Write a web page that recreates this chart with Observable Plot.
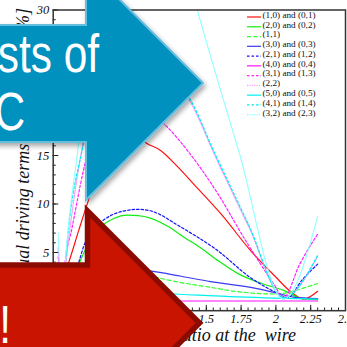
<!DOCTYPE html>
<html>
<head>
<meta charset="utf-8">
<script src="https://cdn.jsdelivr.net/npm/d3@7"></script>
<script src="https://cdn.jsdelivr.net/npm/@observablehq/plot@0.6"></script>
<style>
  html, body { margin: 0; padding: 0; overflow: hidden; background: #fff; }
  #chart svg { display: block; }
</style>
</head>
<body>
<div id="chart"></div>
<script>
// Residual resonance driving terms (p,q) versus the beta ratio at the wire.
// Each series: [beta ratio, residual driving term in %]
const s10 = [[0.435,0.8],[0.468,2.2],[0.512,4.0],[0.584,7.3],[0.656,10.5],[0.739,13.8],[0.835,16.5],[0.913,17.5],[0.99,17.2],[1.068,16.3],[1.174,15.5],[1.29,13.9],[1.406,12.1],[1.61,8.9],[1.818,5.2],[1.997,2.5],[2.103,1.0],[2.2,0.2],[2.3,1.0]];
const s20 = [[0.435,1.5],[0.497,0.4],[0.545,2.2],[0.596,4.2],[0.642,5.6],[0.739,7.6],[0.835,8.5],[0.932,8.85],[1.01,8.8],[1.097,8.55],[1.223,7.7],[1.337,6.6],[1.458,5.5],[1.59,4.1],[1.724,2.85],[1.9,1.8],[2.055,1.1],[2.19,0.25],[2.3,0.15]];
const s11 = [[0.435,2.5],[0.487,0.5],[0.594,2.6],[0.739,3.3],[0.884,3.3],[1.029,2.9],[1.126,2.5],[1.319,1.9],[1.513,1.45],[1.706,1.0],[1.9,0.75],[1.997,0.72],[2.094,0.9],[2.19,1.3],[2.3,1.8]];
const s30 = [[0.435,1.5],[0.487,0.3],[0.594,2.0],[0.739,3.2],[0.932,3.4],[1.097,3.1],[1.319,2.55],[1.53,2.0],[1.818,1.4],[2.011,0.8],[2.126,0.4],[2.3,0.25]];
const s21 = [[0.435,1.2],[0.497,0.4],[0.582,3.9],[0.618,5.6],[0.661,7.0],[0.739,8.1],[0.812,8.8],[0.913,9.3],[1.013,9.45],[1.097,9.3],[1.319,7.6],[1.581,5.2],[1.818,2.4],[2.011,0.8],[2.084,0.35],[2.19,2.2],[2.3,3.8]];
const s40 = [[0.435,1.5],[0.487,0.2],[0.594,2.0],[0.739,2.4],[0.884,1.6],[1.029,0.7],[1.174,0.1],[1.319,0.0],[1.8,0.0],[2.3,0.0]];
const s31 = [[0.435,4.5],[0.458,2.3],[0.47,0.3],[0.485,3.9],[0.532,7.3],[0.618,13.5],[0.69,17.3],[0.787,19.8],[0.884,20.6],[0.981,20.4],[1.077,19.6],[1.208,18.1],[1.365,15.5],[1.581,11.1],[1.767,6.6],[1.983,1.8],[2.055,0.35],[2.171,3.8],[2.3,6.9]];
const s22 = [[0.435,5.5],[0.468,0.4],[0.497,4.5],[0.623,17.0],[0.69,21.5],[0.787,24.5],[0.884,25.6],[0.981,25.8],[1.126,24.7],[1.271,22.8],[1.387,20.5],[1.552,15.3],[1.803,7.7],[2.055,0.4],[2.3,4.6]];
const s50 = [[0.435,1.2],[0.487,0.2],[0.594,1.4],[0.739,1.7],[0.932,1.3],[1.208,0.8],[1.513,0.55],[1.997,0.3],[2.3,0.2]];
const s41 = [[0.435,4.0],[0.472,0.4],[0.488,3.9],[0.618,16.3],[0.69,21.5],[0.787,24.8],[0.884,26.0],[0.981,26.2],[1.126,25.0],[1.271,23.0],[1.387,20.7],[1.552,15.5],[1.803,7.9],[2.055,0.35],[2.3,4.7]];
const s32 = [[0.435,7.0],[0.47,0.3],[0.487,3.9],[0.582,16.2],[0.642,24],[0.69,30.5],[0.787,40],[0.932,48],[1.077,48],[1.223,41],[1.435,30],[1.732,15.5],[2.055,0.2],[2.3,8.7]];

const seriesNames = ["(1,0) and (0,1)", "(2,0) and (0,2)", "(1,1)", "(3,0) and (0,3)", "(2,1) and (1,2)",
  "(4,0) and (0,4)", "(3,1) and (1,3)", "(2,2)", "(5,0) and (0,5)", "(4,1) and (1,4)", "(3,2) and (2,3)"];
const seriesData = [s10, s20, s11, s30, s21, s40, s31, s22, s50, s41, s32];

const xTicks = [0.5, 0.75, 1, 1.25, 1.5, 1.75, 2, 2.25, 2.5];
const yTicks = [0, 5, 10, 15, 20, 25, 30];

// line styles, one per series
const seriesColors = ["#ff1010", "#10ee10", "#33ff33", "#3a3af0", "#1010ff", "#ff10ff", "#ff22ff", "#ff99ff", "#00f0f0", "#00eeee", "#88ffff"];
const seriesDash = [null, null, "4,2.5", null, "2.5,2", null, "2.5,2", "1.2,1.2", null, "2.5,2", "1.2,1.2"];

const rows = seriesData.flatMap((pts, i) => pts.map(([x, y]) => ({series: seriesNames[i], x, y})));

const xMinor = d3.range(8, 51).map(k => k * 0.05);
const yMinor = d3.range(-1, 31);
const serif = "'Liberation Serif', 'Times New Roman', serif";

const chart = Plot.plot({
  width: 347,
  height: 347,
  marginLeft: 52.7,
  marginRight: 2,
  marginTop: 9.5,
  marginBottom: 36.8,
  x: {domain: [0.4, 2.5]},
  y: {domain: [-1, 30]},
  style: {fontFamily: serif, fontStyle: "italic", fontSize: "12.5px", color: "#111", background: "#fff"},
  marks: [
    ...seriesData.map((pts, i) => Plot.line(rows.filter(d => d.series === seriesNames[i]), {
      x: "x", y: "y", stroke: seriesColors[i], strokeDasharray: seriesDash[i] ?? undefined,
      strokeWidth: 1.2, curve: "monotone-x", clip: true
    })),
    // inward ticks along the bottom and left axes
    Plot.ruleX(xMinor, {x: d => d, y1: -1, y2: -0.72, stroke: "#222"}),
    Plot.ruleX(xTicks, {x: d => d, y1: -1, y2: -0.45, stroke: "#222"}),
    Plot.ruleY(yMinor, {y: d => d, x1: 0.4, x2: 0.422, stroke: "#222"}),
    Plot.ruleY(yTicks, {y: d => d, x1: 0.4, x2: 0.44, stroke: "#222"}),
    Plot.axisX({ticks: xTicks, tickSize: 0, tickPadding: 3, tickFormat: d => String(d), label: null}),
    Plot.axisY({ticks: yTicks, tickSize: 0, tickPadding: 4, tickFormat: d => String(d), label: null}),
    Plot.frame({stroke: "#333", strokeWidth: 1.5})
  ]
});
document.getElementById("chart").appendChild(chart);

const svg = d3.select(chart);

// axis titles
svg.append("text")
  .attr("transform", "translate(29,8) rotate(-90)")
  .attr("text-anchor", "end")
  .attr("font-family", serif).attr("font-style", "italic").attr("font-size", 18)
  .attr("fill", "#111")
  .style("white-space", "pre")
  .text("Residual driving terms w.r.t. nominal [%]");
svg.append("text")
  .attr("x", 296).attr("y", 341)
  .attr("text-anchor", "end")
  .attr("font-family", serif).attr("font-style", "italic").attr("font-size", 18)
  .attr("fill", "#111")
  .style("white-space", "pre")
  .text("Beta function ratio at the  wire");

// legend
const lg = svg.append("g")
  .attr("font-family", serif).attr("font-style", "normal").attr("font-size", 9.2)
  .attr("fill", "#111").attr("text-anchor", "start");
seriesNames.forEach((name, i) => {
  const yy = 17 + i * 9.77;
  lg.append("line").attr("x1", 247).attr("x2", 261).attr("y1", yy).attr("y2", yy)
    .attr("stroke", seriesColors[i]).attr("stroke-width", 1.2)
    .attr("stroke-dasharray", seriesDash[i]);
  lg.append("text").attr("x", 262.5).attr("y", yy + 0.8)
    .attr("text-anchor", "start").style("font-style", "normal").text(name);
});

// callout arrows drawn over the figure
const defs = svg.append("defs");
defs.append("filter").attr("id", "arrowShadow")
  .attr("x", "-20%").attr("y", "-20%").attr("width", "140%").attr("height", "140%")
  .append("feDropShadow")
  .attr("dx", 2).attr("dy", 3).attr("stdDeviation", 2.5)
  .attr("flood-color", "#000").attr("flood-opacity", 0.35);

svg.append("polygon")
  .attr("points", "-10,25 86,25 86,-34 203,83 86,200 86,142 -10,142")
  .attr("fill", "#0391be").attr("stroke", "#63bedf").attr("stroke-width", 2)
  .attr("stroke-linejoin", "miter")
  .attr("filter", "url(#arrowShadow)");

svg.append("polygon")
  .attr("points", "-10,265 87.5,265 87.5,211 199.5,323 87.5,435 87.5,381.5 -10,381.5")
  .attr("fill", "#c81400").attr("stroke", "#8c0b00").attr("stroke-width", 5.5)
  .attr("stroke-linejoin", "miter");

const sans = "'Liberation Sans', Arial, sans-serif";
const callout = (x, y, anchor, str) => svg.append("text")
  .attr("transform", `translate(${x},${y}) scale(0.8,1)`)
  .attr("text-anchor", anchor)
  .attr("font-family", sans).attr("font-size", 53)
  .style("font-style", "normal")
  .attr("fill", "#fff")
  .style("white-space", "pre")
  .text(str);
callout(99, 72, "end", "sts of");
callout(25, 130, "end", "C");
callout(11, 343, "end", "!");
</script>
</body>
</html>
